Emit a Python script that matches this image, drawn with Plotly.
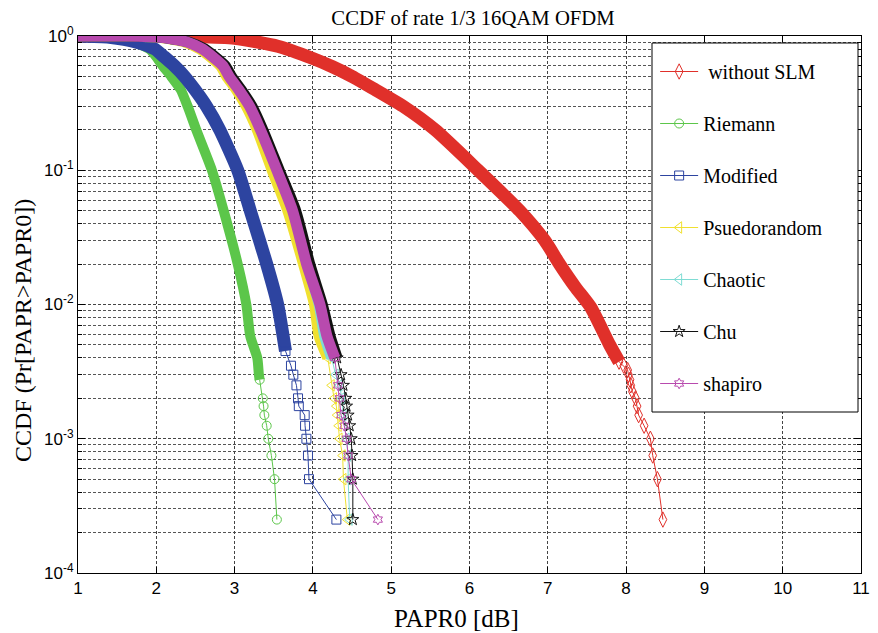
import plotly.graph_objects as go

# ---------------- data ----------------
papr_ticks = [1, 2, 3, 4, 5, 6, 7, 8, 9, 10, 11]
ccdf_ticks = [1e-4, 1e-3, 1e-2, 1e-1, 1]
ccdf_ticktext = ["10<sup>-4</sup>", "10<sup>-3</sup>", "10<sup>-2</sup>", "10<sup>-1</sup>", "10<sup>0</sup>"]

without_slm_x = [1.0, 1.8, 2.5, 3.0, 3.55, 4.0, 4.25, 4.5, 4.79, 5.15, 5.56, 6.11, 6.64, 6.96, 7.15, 7.35,
                 7.55, 7.79, 7.91, 7.97, 8.02, 8.03, 8.05, 8.06, 8.08, 8.12, 8.14, 8.16, 8.23, 8.31, 8.34,
                 8.40, 8.47]
without_slm_p = [1.0, 1.0, 0.99, 0.96, 0.84, 0.68, 0.59, 0.5, 0.4, 0.3, 0.2, 0.1, 0.05, 0.03, 0.02, 0.0135,
                 0.0095, 0.005, 0.00375, 0.0035, 0.00325, 0.003, 0.00275, 0.0025, 0.00225, 0.002, 0.00175,
                 0.0015, 0.00125, 0.001, 0.00075, 0.0005, 0.00025]

riemann_x = [1.0, 1.4, 1.72, 1.91, 2.0, 2.08, 2.19, 2.31, 2.40, 2.51, 2.71, 2.86, 3.04, 3.15, 3.20, 3.29,
             3.31, 3.32, 3.36, 3.37, 3.38, 3.41, 3.43, 3.47, 3.51, 3.54]
riemann_p = [1.0, 0.98, 0.9, 0.8, 0.7, 0.6, 0.5, 0.4, 0.3, 0.2, 0.1, 0.05, 0.02, 0.01, 0.0058, 0.004,
             0.003, 0.00275, 0.002, 0.00175, 0.0015, 0.00125, 0.001, 0.00075, 0.0005, 0.00025]

modified_x = [1.0, 1.4, 1.75, 1.98, 2.10, 2.23, 2.36, 2.49, 2.64, 2.81, 3.04, 3.20, 3.41, 3.55, 3.62, 3.65,
              3.72, 3.75, 3.79, 3.81, 3.82, 3.895, 3.90, 3.917, 3.937, 3.95, 4.30]
modified_p = [1.0, 0.98, 0.9, 0.8, 0.7, 0.6, 0.5, 0.4, 0.3, 0.2, 0.1, 0.05, 0.02, 0.01, 0.0058, 0.0045,
              0.0035, 0.003, 0.0025, 0.002, 0.00175, 0.0015, 0.00125, 0.001, 0.00075, 0.0005, 0.00025]

pseudo_x = [1.0, 1.6, 2.03, 2.37, 2.56, 2.69, 2.82, 2.90, 3.02, 3.15, 3.29, 3.48, 3.68, 3.88, 4.02, 4.08,
            4.19, 4.24, 4.27, 4.30, 4.31, 4.33, 4.34, 4.38, 4.39, 4.44]
pseudo_p = [1.0, 1.0, 0.98, 0.9, 0.8, 0.7, 0.6, 0.5, 0.4, 0.3, 0.2, 0.1, 0.05, 0.02, 0.01, 0.0058,
            0.004, 0.0025, 0.002, 0.00175, 0.0015, 0.00125, 0.001, 0.00075, 0.0005, 0.00025]

chaotic_x = [1.0, 1.6, 2.06, 2.41, 2.61, 2.74, 2.87, 2.95, 3.07, 3.21, 3.35, 3.55, 3.75, 3.93, 4.08, 4.15,
             4.24, 4.29, 4.34, 4.37, 4.39, 4.43, 4.45, 4.45, 4.47]
chaotic_p = [1.0, 1.0, 0.98, 0.9, 0.8, 0.7, 0.6, 0.5, 0.4, 0.3, 0.2, 0.1, 0.05, 0.02, 0.01, 0.0058,
             0.004, 0.003, 0.0025, 0.002, 0.0015, 0.001, 0.00075, 0.0005, 0.00025]

chu_x = [1.0, 1.6, 2.07, 2.42, 2.62, 2.75, 2.88, 2.96, 3.08, 3.22, 3.36, 3.57, 3.78, 3.96, 4.12, 4.22,
         4.31, 4.36, 4.39, 4.42, 4.43, 4.45, 4.47, 4.49, 4.50, 4.51, 4.51]
chu_p = [1.0, 1.0, 0.98, 0.9, 0.8, 0.7, 0.6, 0.5, 0.4, 0.3, 0.2, 0.1, 0.05, 0.02, 0.01, 0.0058,
         0.004, 0.003, 0.0025, 0.002, 0.00175, 0.0015, 0.00125, 0.001, 0.00075, 0.0005, 0.00025]

shapiro_x = [1.0, 1.6, 2.05, 2.40, 2.59, 2.72, 2.85, 2.93, 3.05, 3.19, 3.33, 3.54, 3.74, 3.92, 4.09, 4.18,
             4.28, 4.32, 4.34, 4.36, 4.40, 4.43, 4.45, 4.49, 4.83]
shapiro_p = [1.0, 1.0, 0.98, 0.9, 0.8, 0.7, 0.6, 0.5, 0.4, 0.3, 0.2, 0.1, 0.05, 0.02, 0.01, 0.0058,
             0.004, 0.0025, 0.002, 0.0015, 0.00125, 0.001, 0.00075, 0.0005, 0.00025]

series_names = ["\u00a0without SLM", "Riemann", "Modified", "Psuedorandom", "Chaotic", "Chu", "shapiro"]

# ---------------- styling ----------------
styles = [
    # x, p, color, symbol, marker size, band width, dense-band end (prob.)
    (without_slm_x, without_slm_p, "#e0302a", "diamond-tall-open", 11, 13, 0.00375),
    (riemann_x, riemann_p, "#5cc64a", "circle-open", 9, 10, 0.00275),
    (modified_x, modified_p, "#2d44a0", "square-open", 9, 13, 0.0045),
    (pseudo_x, pseudo_p, "#f0e030", "triangle-left-open", 10, 11, 0.004),
    (chaotic_x, chaotic_p, "#7fdcd4", "triangle-left-open", 10, 11, 0.004),
    (chu_x, chu_p, "#111111", "star-open", 9, 11, 0.004),
    (shapiro_x, shapiro_p, "#b84aae", "hexagram-open", 8, 11, 0.004),
]

SERIF = "Liberation Serif"
SANS = "Liberation Sans"

fig = go.Figure()
for name, (xs, ps, color, sym, msize, bw, cut) in zip(series_names, styles):
    bx = [x for x, p in zip(xs, ps) if p >= cut]
    by = [p for p in ps if p >= cut]
    tx = [x for x, p in zip(xs, ps) if p <= cut]
    ty = [p for p in ps if p <= cut]
    fig.add_trace(go.Scatter(x=bx, y=by, mode="lines",
                             line=dict(color=color, width=bw, shape="spline", smoothing=0.6),
                             showlegend=False, legendgroup=name, hoverinfo="skip"))
    fig.add_trace(go.Scatter(x=tx, y=ty, mode="lines+markers", name=name, legendgroup=name,
                             line=dict(color=color, width=1),
                             marker=dict(symbol=sym, size=msize, color=color,
                                         line=dict(color=color, width=1)),
                             cliponaxis=False))

grid_dash = "3px,2px"
minor_vals = [k * 10.0 ** e for e in (-4, -3, -2, -1) for k in range(2, 10)]

# the page body adds an 8px offset; the figure is sized so the plot area lands at
# screen pixels left 78, right 861, top 36, bottom 573
OFF = 8
L, R, T, B = 78, 861, 36, 573
PW, PH = float(R - L), float(B - T)
leg_l, leg_r, leg_t, leg_b = 652, 858, 43, 412


def px_to_paper_x(px):
    return (px - L) / PW


def px_to_paper_y(py):
    return 1 - (py - T) / PH


fig.update_layout(
    width=878 - OFF, height=633 - OFF,
    margin=dict(l=L - OFF, r=878 - R, t=T - OFF, b=633 - B, autoexpand=False),
    font=dict(family=SERIF, size=20, color="black"),
    paper_bgcolor="white", plot_bgcolor="white",
    title=dict(text="CCDF of rate 1/3 16QAM OFDM", x=px_to_paper_x(473), xref="paper", xanchor="center",
               y=1 - (18 - OFF) / (633 - OFF), yanchor="middle", yref="container",
               font=dict(family=SERIF, size=20.7, color="black")),
    xaxis=dict(range=[1, 11], tickmode="array", tickvals=papr_ticks, automargin=False,
               ticks="inside", ticklen=6, tickcolor="black", mirror="ticks",
               showline=True, linecolor="black", linewidth=1,
               showgrid=True, gridcolor="#444444", griddash=grid_dash, gridwidth=1,
               zeroline=False,
               tickfont=dict(family=SANS, size=17, color="black")),
    yaxis=dict(type="log", range=[-4, 0], tickmode="array", tickvals=ccdf_ticks, ticktext=ccdf_ticktext,
               automargin=False,
               ticks="inside", ticklen=7, tickcolor="black", mirror="ticks",
               showline=True, linecolor="black", linewidth=1,
               showgrid=True, gridcolor="#444444", griddash=grid_dash, gridwidth=1,
               zeroline=False,
               minor=dict(tickmode="array", tickvals=minor_vals, ticks="inside", ticklen=4,
                          tickcolor="black", showgrid=True, gridcolor="#555555",
                          griddash=grid_dash, gridwidth=1),
               tickfont=dict(family=SANS, size=17, color="black")),
    annotations=[
        dict(text="PAPR0 [dB]", xref="paper", yref="paper",
             x=px_to_paper_x(456), y=px_to_paper_y(618), xanchor="center", yanchor="middle",
             showarrow=False, font=dict(family=SERIF, size=25, color="black")),
        dict(text="CCDF (Pr[PAPR>PAPR0])", xref="paper", yref="paper", textangle=-90,
             x=px_to_paper_x(OFF + 1), y=px_to_paper_y(331), xanchor="left", yanchor="middle",
             borderpad=0,
             showarrow=False, font=dict(family=SERIF, size=24, color="black")),
    ],
    legend=dict(x=px_to_paper_x(leg_l) + 0.004, y=px_to_paper_y(52), xanchor="left", yanchor="top",
                bgcolor="rgba(0,0,0,0)", borderwidth=0, itemwidth=38,
                font=dict(family=SERIF, size=20, color="black"),
                tracegroupgap=23),
    shapes=[dict(type="rect", xref="paper", yref="paper", layer="above",
                 x0=px_to_paper_x(leg_l), x1=px_to_paper_x(leg_r),
                 y0=px_to_paper_y(leg_b), y1=px_to_paper_y(leg_t),
                 fillcolor="white", line=dict(color="black", width=1))],
    showlegend=True,
)

fig.write_html("out.html")
